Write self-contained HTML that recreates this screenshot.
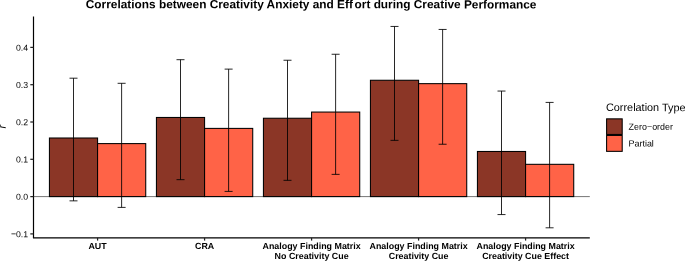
<!DOCTYPE html>
<html lang="en"><head><meta charset="utf-8"><title>Correlations between Creativity Anxiety and Effort during Creative Performance</title>
<style>
html,body{margin:0;padding:0;background:#fff;}
body{width:685px;height:261px;overflow:hidden;}
svg{display:block;font-family:"Liberation Sans",sans-serif;}
.t{font-size:11.86px;font-weight:bold;fill:#000;}
.ax{font-size:8.72px;fill:#000;}
.xl{font-size:8.9px;font-weight:bold;fill:#000;text-anchor:middle;}
.lt{font-size:10.9px;fill:#000;}
.ll{font-size:8.92px;fill:#000;}
.yl{font-size:10.9px;font-style:italic;fill:#000;}
</style></head><body>
<svg width="685" height="261" viewBox="0 0 685 261">
<rect width="685" height="261" fill="#fff"/>
<text class="t" transform="translate(311 8.3) rotate(0.03) translate(-225.2 0)">Correlations between Creativity Anxiety and Eff<tspan dx="1.6">ort</tspan> during Creative Performance</text>
<rect x="49.43" y="138.00" width="48.15" height="58.60" fill="#8B3626" stroke="#000" stroke-width="1.05"/>
<rect x="97.58" y="143.60" width="48.15" height="53.00" fill="#FF6347" stroke="#000" stroke-width="1.05"/>
<rect x="156.43" y="117.46" width="48.15" height="79.14" fill="#8B3626" stroke="#000" stroke-width="1.05"/>
<rect x="204.58" y="128.40" width="48.15" height="68.20" fill="#FF6347" stroke="#000" stroke-width="1.05"/>
<rect x="263.43" y="118.24" width="48.15" height="78.36" fill="#8B3626" stroke="#000" stroke-width="1.05"/>
<rect x="311.58" y="112.06" width="48.15" height="84.54" fill="#FF6347" stroke="#000" stroke-width="1.05"/>
<rect x="370.43" y="80.26" width="48.15" height="116.34" fill="#8B3626" stroke="#000" stroke-width="1.05"/>
<rect x="418.58" y="83.65" width="48.15" height="112.95" fill="#FF6347" stroke="#000" stroke-width="1.05"/>
<rect x="477.43" y="151.47" width="48.15" height="45.13" fill="#8B3626" stroke="#000" stroke-width="1.05"/>
<rect x="525.58" y="164.32" width="48.15" height="32.28" fill="#FF6347" stroke="#000" stroke-width="1.05"/>
<line x1="33.5" x2="589.8" y1="196.6" y2="196.6" stroke="#000" stroke-width="0.55"/>
<path d="M69.51 78.20H77.51M73.51 78.20V200.85M69.51 200.85H77.51" fill="none" stroke="#000" stroke-width="0.85"/>
<path d="M117.62 83.30H125.62M121.62 83.30V207.40M117.62 207.40H125.62" fill="none" stroke="#000" stroke-width="0.85"/>
<path d="M176.51 59.70H184.51M180.51 59.70V179.66M176.51 179.66H184.51" fill="none" stroke="#000" stroke-width="0.85"/>
<path d="M224.62 69.12H232.62M228.62 69.12V191.40M224.62 191.40H232.62" fill="none" stroke="#000" stroke-width="0.85"/>
<path d="M283.51 60.24H291.51M287.51 60.24V180.33M283.51 180.33H291.51" fill="none" stroke="#000" stroke-width="0.85"/>
<path d="M331.62 54.26H339.62M335.62 54.26V174.36M331.62 174.36H339.62" fill="none" stroke="#000" stroke-width="0.85"/>
<path d="M390.51 26.45H398.51M394.51 26.45V140.35M390.51 140.35H398.51" fill="none" stroke="#000" stroke-width="0.85"/>
<path d="M438.62 29.44H446.62M442.62 29.44V144.24M438.62 144.24H446.62" fill="none" stroke="#000" stroke-width="0.85"/>
<path d="M497.51 91.06H505.51M501.51 91.06V214.57M497.51 214.57H505.51" fill="none" stroke="#000" stroke-width="0.85"/>
<path d="M545.60 102.42H553.60M549.60 102.42V227.80M545.60 227.80H553.60" fill="none" stroke="#000" stroke-width="0.85"/>
<path d="M33.5 16.5V237.85" stroke="#000" stroke-width="1.2" fill="none"/>
<path d="M32.95 237.85H589.8" stroke="#000" stroke-width="1.15" fill="none"/>
<line x1="30.30" x2="33.5" y1="47.40" y2="47.40" stroke="#222" stroke-width="1.25"/>
<text class="ax" transform="translate(28.10 50.65) rotate(0.03)" text-anchor="end">0.4</text>
<line x1="30.30" x2="33.5" y1="84.70" y2="84.70" stroke="#222" stroke-width="1.25"/>
<text class="ax" transform="translate(28.10 87.95) rotate(0.03)" text-anchor="end">0.3</text>
<line x1="30.30" x2="33.5" y1="122.00" y2="122.00" stroke="#222" stroke-width="1.25"/>
<text class="ax" transform="translate(28.10 125.25) rotate(0.03)" text-anchor="end">0.2</text>
<line x1="30.30" x2="33.5" y1="159.30" y2="159.30" stroke="#222" stroke-width="1.25"/>
<text class="ax" transform="translate(28.10 162.55) rotate(0.03)" text-anchor="end">0.1</text>
<line x1="30.30" x2="33.5" y1="196.60" y2="196.60" stroke="#222" stroke-width="1.25"/>
<text class="ax" transform="translate(28.10 199.85) rotate(0.03)" text-anchor="end">0.0</text>
<line x1="30.30" x2="33.5" y1="233.90" y2="233.90" stroke="#222" stroke-width="1.25"/>
<text class="ax" transform="translate(28.10 237.15) rotate(0.03)" text-anchor="end"><tspan dy="-0.3">−</tspan><tspan dy="0.3">0.1</tspan></text>
<line x1="97.58" x2="97.58" y1="237.85" y2="240.6" stroke="#222" stroke-width="1.25"/>
<text class="xl" transform="translate(97.58 249.00) rotate(0.03)">AUT</text>
<line x1="204.58" x2="204.58" y1="237.85" y2="240.6" stroke="#222" stroke-width="1.25"/>
<text class="xl" transform="translate(204.58 249.00) rotate(0.03)">CRA</text>
<line x1="311.58" x2="311.58" y1="237.85" y2="240.6" stroke="#222" stroke-width="1.25"/>
<text class="xl" transform="translate(311.58 249.00) rotate(0.03)">Analogy Finding Matrix</text>
<text class="xl" transform="translate(311.58 259.00) rotate(0.03)">No Creativity Cue</text>
<line x1="418.58" x2="418.58" y1="237.85" y2="240.6" stroke="#222" stroke-width="1.25"/>
<text class="xl" transform="translate(418.58 249.00) rotate(0.03)">Analogy Finding Matrix</text>
<text class="xl" transform="translate(418.58 259.00) rotate(0.03)">Creativity Cue</text>
<line x1="525.58" x2="525.58" y1="237.85" y2="240.6" stroke="#222" stroke-width="1.25"/>
<text class="xl" transform="translate(525.58 249.00) rotate(0.03)">Analogy Finding Matrix</text>
<text class="xl" transform="translate(525.58 259.00) rotate(0.03)">Creativity Cue Effect</text>
<text class="yl" transform="translate(5.7 128.5) rotate(-90.03)">r</text>
<text class="lt" transform="translate(605.90 111.10) rotate(0.03)">Correlation Type</text>
<rect x="606.6" y="118.85" width="15.6" height="15.6" fill="#8B3626" stroke="#000" stroke-width="1.05"/>
<rect x="606.6" y="135.45" width="15.6" height="15.9" fill="#FF6347" stroke="#000" stroke-width="1.05"/>
<text class="ll" transform="translate(628.60 129.75) rotate(0.03)">Zero<tspan dy="-0.4">−</tspan><tspan dy="0.4">order</tspan></text>
<text class="ll" transform="translate(628.60 146.40) rotate(0.03)">Partial</text>
</svg>
</body></html>
